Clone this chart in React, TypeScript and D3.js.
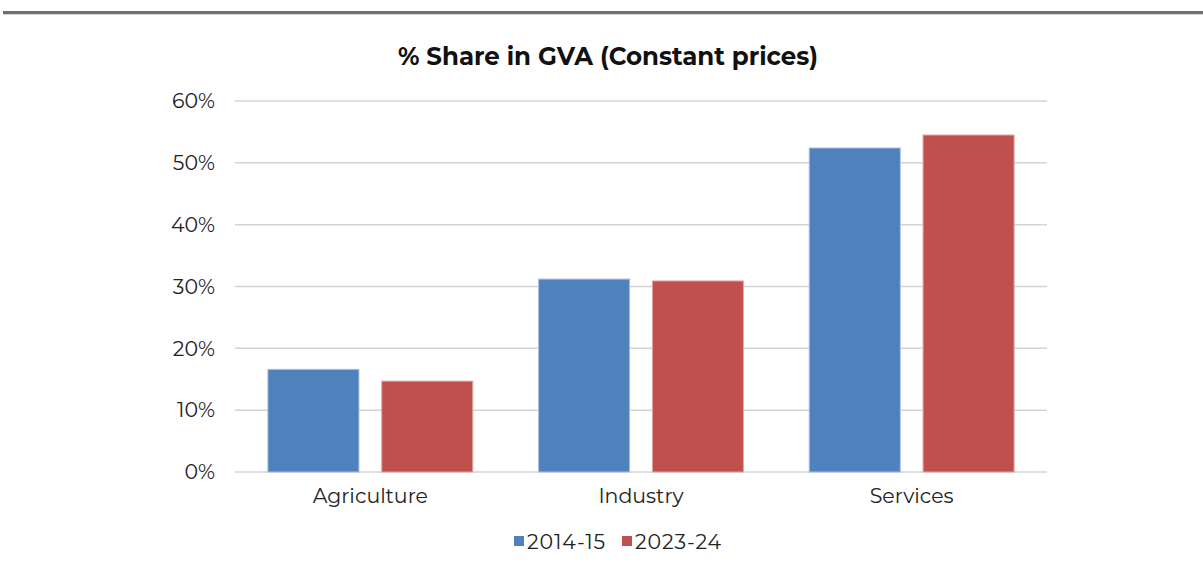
import React from "react";
import * as d3 from "d3";

const categories = ["Agriculture", "Industry", "Services"];
const seriesNames = ["2014-15", "2023-24"];
const series2014 = [16.6, 31.2, 52.4];
const series2023 = [14.7, 30.9, 54.5];
const yTicks = [0, 10, 20, 30, 40, 50, 60];
const colors = ["#4f81bd", "#c0504d"];
const strokes = ["#a9c0df", "#dfa9a7"];

const W = 1203, H = 566;
const margin = { left: 235, right: 156, top: 101, bottom: 94 };
const FONT = "'Montserrat', Lato, 'Open Sans', sans-serif";

export default function App() {
  const x0 = d3.scaleBand().domain(categories).range([margin.left, W - margin.right]).paddingInner(0.243).paddingOuter(0.1215);
  const x1 = d3.scaleBand().domain(seriesNames).range([0, x0.bandwidth()]).paddingInner(0.2);
  const y = d3.scaleLinear().domain([0, 60]).range([H - margin.bottom, margin.top]);
  const data = [series2014, series2023];
  return (
    <svg width={W} height={H} style={{ position: "absolute", left: 0, top: 0, background: "#fff" }}>
      <rect x={3} y={11} width={W - 3} height={3} fill="#6f6f6f" />
      <rect x={3} y={14} width={W - 3} height={1} fill="#d6d6d6" />
      <text x={608} y={65} textAnchor="middle" fontFamily={FONT} fontWeight="bold" fontSize={24.5} fill="#111">% Share in GVA (Constant prices)</text>
      {yTicks.map((t) => (
        <g key={t}>
          <line x1={margin.left} x2={W - margin.right} y1={y(t)} y2={y(t)} stroke="#d4d4d4" strokeWidth={1.5} />
          <text x={215} y={y(t)} dy="0.35em" textAnchor="end" fontFamily={FONT} fontSize={20.5} fill="#222">{t}%</text>
        </g>
      ))}
      {categories.map((c, i) => (
        <g key={c}>
          {seriesNames.map((s, j) => (
            <rect key={s} x={(x0(c) as number) + (x1(s) as number)} y={y(data[j][i])} width={x1.bandwidth()} height={y(0) - y(data[j][i])} fill={colors[j]} stroke={strokes[j]} strokeWidth={1} />
          ))}
          <text x={(x0(c) as number) + x0.bandwidth() / 2} y={496} dy="0.35em" textAnchor="middle" fontFamily={FONT} fontSize={20.5} fill="#222">{c}</text>
        </g>
      ))}
      {seriesNames.map((s, j) => {
        const lx = j === 0 ? 514 : 622;
        return (
          <g key={s}>
            <rect x={lx} y={536} width={10} height={10} fill={colors[j]} />
            <text x={lx + 13} y={542} dy="0.35em" fontFamily={FONT} fontSize={20.5} letterSpacing={0.9} fill="#222">{s}</text>
          </g>
        );
      })}
    </svg>
  );
}
